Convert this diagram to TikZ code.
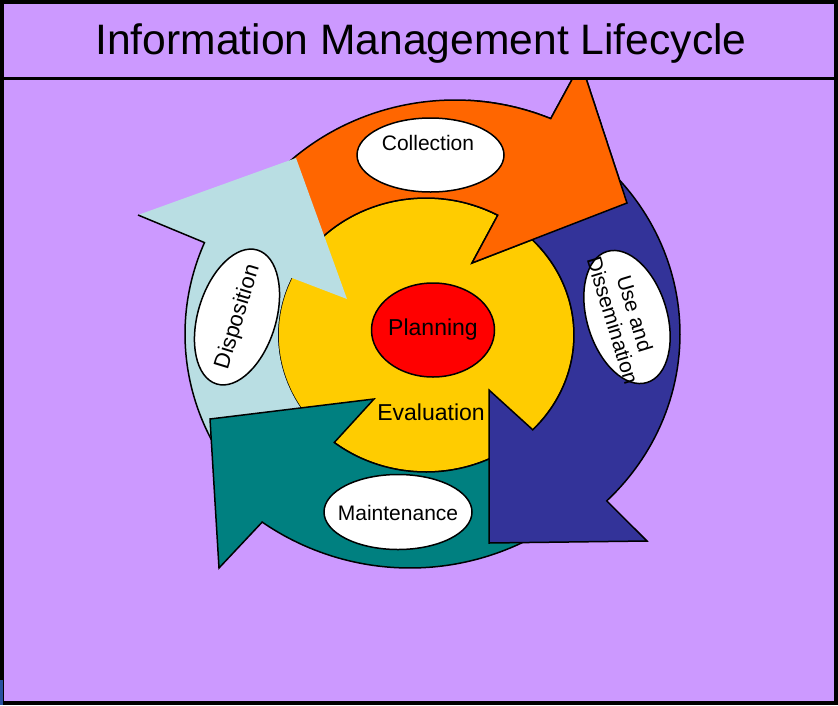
\documentclass[tikz,border=0pt]{standalone}
\usepackage{fontspec}
\setmainfont{Liberation Sans}
\usetikzlibrary{shapes.geometric}
\definecolor{bglav}{RGB}{204,153,255}
\definecolor{arrorange}{RGB}{255,102,0}
\definecolor{arrblue}{RGB}{51,51,153}
\definecolor{arrteal}{RGB}{0,128,128}
\definecolor{arrlight}{RGB}{185,222,227}
\definecolor{hubyellow}{RGB}{255,204,0}
\definecolor{hubred}{RGB}{255,0,0}
\definecolor{cornerblue}{RGB}{40,80,160}
\newcommand\OrangeArrowPath{plot[domain=140:67,samples=60,variable=\t]({455+245*cos(\t)},{334-234*sin(\t)})
 -- (581,63) -- (627,203) -- (472,263)
 -- plot[domain=61:136,samples=60,variable=\t]({426+148*cos(\t)},{335-137*sin(\t)}) -- cycle}
\tikzset{
  arrowbody/.style={draw=black, line width=1.5pt, line join=miter},
  tag/.style={ellipse, draw=black, line width=1.5pt, fill=white, inner sep=0pt},
  smalltxt/.style={font=\fontsize{21}{23}\selectfont, text=black, inner sep=0pt},
  bigtxt/.style={font=\fontsize{23}{26}\selectfont, text=black, inner sep=0pt},
}
\begin{document}
\begin{tikzpicture}[x=1pt,y=-1pt]
\useasboundingbox (0,0) rectangle (838,705);
% background
\fill[bglav] (0,0) rectangle (838,705);
% hub
\path[fill=hubyellow, draw=black, line width=1.5pt] (426,335) ellipse [x radius=148pt, y radius=137pt];
% orange arrow (Collection)
\path[arrowbody, fill=arrorange] \OrangeArrowPath;
% light blue arrow (Disposition)
\fill[arrlight] plot[domain=215:157,samples=60,variable=\t]({430+245*cos(\t)},{334-234*sin(\t)})
 -- (138,215) -- (296,158) -- (347,299)
 -- plot[domain=155.3:215,samples=60,variable=\t]({426+148*cos(\t)},{335-137*sin(\t)}) -- cycle;
\draw[line width=1.5pt] plot[domain=215:157,samples=60,variable=\t]({430+245*cos(\t)},{334-234*sin(\t)}) -- (138,215);
% teal arrow (Maintenance)
\path[arrowbody, fill=arrteal] plot[domain=-60:-124.5,samples=60,variable=\t]({410+261*cos(\t)},{307-261*sin(\t)})
 -- (219,568) -- (210,419) -- (374,399)
 -- plot[domain=-128.3:-55,samples=60,variable=\t]({426+148*cos(\t)},{335-137*sin(\t)}) -- cycle;
% dark blue arrow (Use and Dissemination)
\path[arrowbody, fill=arrblue] plot[domain=50:-45.5,samples=60,variable=\t]({435+245*cos(\t)},{334-234*sin(\t)})
 -- (647,541) -- (489,543) -- (489,390)
 -- plot[domain=-43.8:50,samples=60,variable=\t]({426+148*cos(\t)},{335-137*sin(\t)}) -- cycle;
% orange head again on top of the blue tail
\begin{scope}
\clip (468,80) rectangle (700,300);
\path[arrowbody, fill=arrorange] \OrangeArrowPath;
\end{scope}
% centre
\node[ellipse, draw=black, line width=1.5pt, fill=hubred, minimum width=123pt, minimum height=94pt, inner sep=0pt] (plan) at (433,330) {};
\node[bigtxt] (plantxt) at (433,330) {Planning};
\node[bigtxt] (evaltxt) at (431,412) {Evaluation};
% labels
\node[tag, minimum width=147pt, minimum height=74pt] (coll) at (430.5,155) {};
\node[smalltxt] (colltxt) at (428,143) {Collection};
\node[tag, minimum width=148pt, minimum height=75pt] (maint) at (398,512) {};
\node[smalltxt] (mainttxt) at (398,513) {Maintenance};
\node[tag, minimum width=140pt, minimum height=78pt, rotate=73] (disp) at (237,317) {};
\node[font=\fontsize{22}{24}\selectfont, inner sep=0pt, rotate=73] (disptxt) at (238,317) {Disposition};
\node[tag, minimum width=137pt, minimum height=80pt, rotate=-73] (use) at (627,317) {};
\node[smalltxt, align=center, rotate=-73] (usetxt) at (624,317) {Use and\\Dissemination};
% title band and frame
\fill[bglav] (0,0) rectangle (838,78);
\node[font=\fontsize{42.6}{48}\selectfont, inner sep=0pt] (title) at (421,43) {Information Management Lifecycle};
\draw[line width=3.5pt] (0,78.5) -- (838,78.5);
\draw[line width=4pt] (2,2) rectangle (836,703);
\fill[cornerblue] (0,680) rectangle (3,705);
\end{tikzpicture}
\end{document}
